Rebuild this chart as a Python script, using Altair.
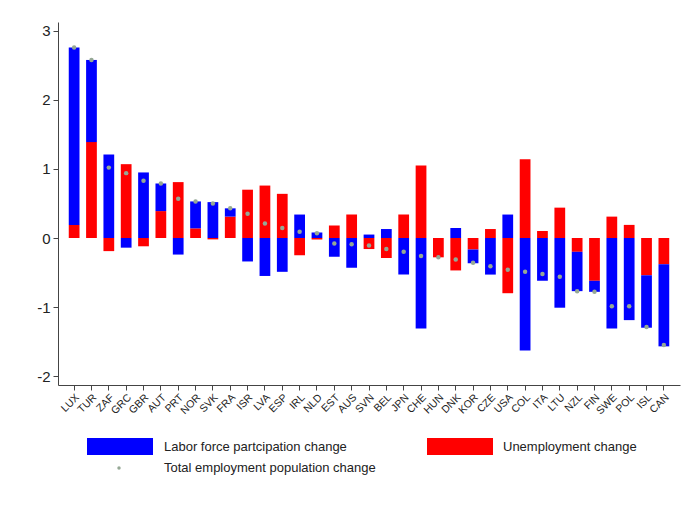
import altair as alt
import pandas as pd

countries = ["LUX", "TUR", "ZAF", "GRC", "GBR", "AUT", "PRT", "NOR", "SVK", "FRA",
             "ISR", "LVA", "ESP", "IRL", "NLD", "EST", "AUS", "SVN", "BEL", "JPN",
             "CHE", "HUN", "DNK", "KOR", "CZE", "USA", "COL", "ITA", "LTU", "NZL",
             "FIN", "SWE", "POL", "ISL", "CAN"]

lfp_change = [2.57, 1.19, 1.21, -0.14, 0.95, 0.40, -0.24, 0.39, 0.52, 0.12,
              -0.34, -0.55, -0.49, 0.34, 0.08, -0.27, -0.43, 0.05, 0.13, -0.53,
              -1.31, 0.0, 0.145, -0.20, -0.53, 0.34, -1.63, -0.62, -1.01, -0.57,
              -0.16, -1.31, -1.19, -0.76, -1.19]

unemp_change = [0.19, 1.39, -0.19, 1.07, -0.12, 0.39, 0.81, 0.14, -0.02, 0.31,
                0.70, 0.76, 0.64, -0.25, -0.02, 0.18, 0.34, -0.16, -0.29, 0.34,
                1.05, -0.28, -0.47, -0.165, 0.13, -0.80, 1.14, 0.10, 0.44, -0.20,
                -0.62, 0.31, 0.19, -0.54, -0.38]

total_change = [2.76, 2.58, 1.02, 0.94, 0.83, 0.79, 0.57, 0.53, 0.50, 0.43,
                0.35, 0.21, 0.145, 0.09, 0.07, -0.08, -0.09, -0.11, -0.16, -0.20,
                -0.26, -0.28, -0.31, -0.36, -0.41, -0.46, -0.49, -0.52, -0.56, -0.77,
                -0.78, -0.99, -0.99, -1.29, -1.55]

series_names = ["Labor force partcipation change", "Unemployment change"]
series_colors = ["#0000ff", "#ff0000"]
dot_label = "Total employment population change"
dot_color = "#95a895"

rows = []
for c, b, r in zip(countries, lfp_change, unemp_change):
    rows.append({"country": c, "series": series_names[1], "value": r, "ord": 0})
    rows.append({"country": c, "series": series_names[0], "value": b, "ord": 1})
df_bars = pd.DataFrame(rows)
df_tot = pd.DataFrame({"country": countries, "total": total_change})

FONT = "Liberation Sans"

xenc = alt.X("country:N", sort=countries, title=None,
             scale=alt.Scale(paddingInner=0.38, paddingOuter=0.62),
             axis=alt.Axis(labelAngle=-45, labelFontSize=10.5, labelColor="#222",
                           tickSize=5, tickColor="#444", domainColor="#444",
                           labelPadding=2))
yscale = alt.Scale(domain=[-2.13, 3.13], nice=False, zero=False)

bars = alt.Chart(df_bars).mark_bar().encode(
    x=xenc,
    y=alt.Y("value:Q", stack="zero", scale=yscale, title=None,
            axis=alt.Axis(values=[-2, -1, 0, 1, 2, 3], labelExpr="toString(datum.value)",
                          labelFontSize=15, labelColor="#222", tickSize=5, tickColor="#444",
                          domainColor="#444", grid=False, labelPadding=3)),
    color=alt.Color("series:N", scale=alt.Scale(domain=series_names, range=series_colors),
                    legend=None),
    order=alt.Order("ord:Q"),
)

dots = alt.Chart(df_tot).mark_point(filled=True, shape="circle", size=20,
                                     color=dot_color, opacity=1).encode(
    x=alt.X("country:N", sort=countries),
    y=alt.Y("total:Q", scale=yscale),
)

# manual legend
leg1 = alt.Chart(pd.DataFrame({"name": [series_names[0]]})).mark_rect(color=series_colors[0]).encode(
    x=alt.value(29), x2=alt.value(95), y=alt.value(416), y2=alt.value(433))
leg2 = alt.Chart(pd.DataFrame({"name": [series_names[1]]})).mark_rect(color=series_colors[1]).encode(
    x=alt.value(369), x2=alt.value(435), y=alt.value(416), y2=alt.value(433))
lt1 = alt.Chart(pd.DataFrame({"name": [series_names[0]]})).mark_text(
    align="left", baseline="middle", fontSize=13, font=FONT, color="#222").encode(
    x=alt.value(106), y=alt.value(425), text="name:N")
lt2 = alt.Chart(pd.DataFrame({"name": [series_names[1]]})).mark_text(
    align="left", baseline="middle", fontSize=13, font=FONT, color="#222").encode(
    x=alt.value(445), y=alt.value(425), text="name:N")
ld = alt.Chart(pd.DataFrame({"name": [dot_label]})).mark_point(
    filled=True, shape="circle", size=12, color=dot_color, opacity=1).encode(
    x=alt.value(61), y=alt.value(446))
lt3 = alt.Chart(pd.DataFrame({"name": [dot_label]})).mark_text(
    align="left", baseline="middle", fontSize=13, font=FONT, color="#222").encode(
    x=alt.value(106), y=alt.value(446), text="name:N")

chart = alt.layer(bars, dots, leg1, leg2, lt1, lt2, ld, lt3).properties(
    width=622, height=363,
    padding={"left": 50, "top": 14, "right": 2, "bottom": 110},
    autosize=alt.AutoSizeParams(type="none"),
).configure_view(stroke=None).configure_axis(labelFont=FONT)

chart.save("out.html", embed_options={"renderer": "svg", "actions": False})
